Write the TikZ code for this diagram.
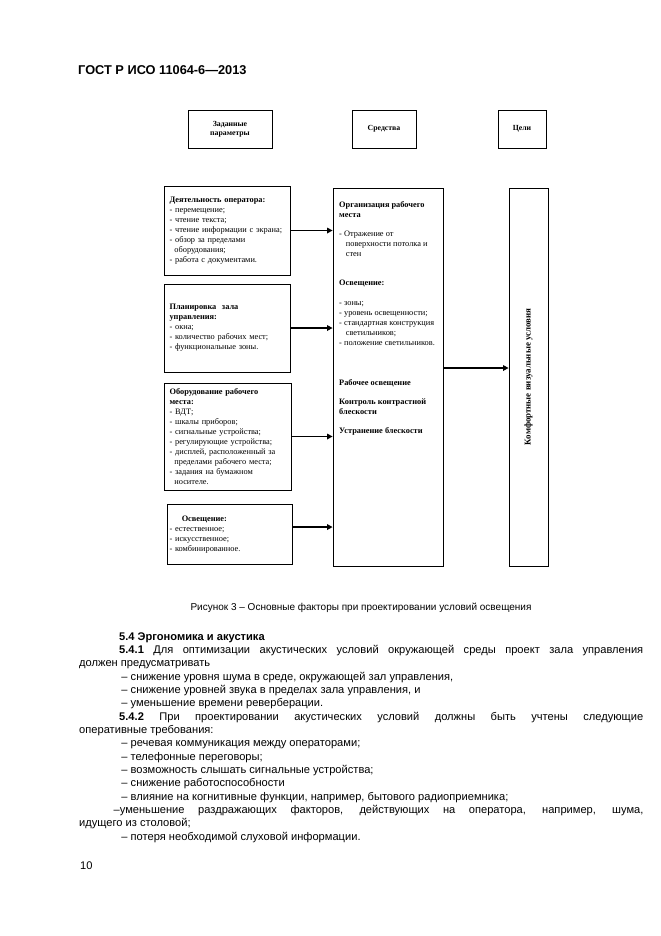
\documentclass[tikz,border=0pt]{standalone}
\usepackage{fontspec}
\setmainfont{Liberation Sans}
\newfontfamily\schemefont{Liberation Serif}
\usetikzlibrary{arrows.meta}

\begin{document}
\begin{tikzpicture}[x=0.9pt, y=-0.9pt,
        box/.style={draw, line width=0.7pt, inner sep=0pt},
        head/.style={box, font={\schemefont\bfseries\fontsize{7}{8.5}\selectfont}, align=center},
        factor/.style={box, font={\schemefont\fontsize{7.5}{9}\selectfont}, align=left, inner xsep=5pt},
        meanstext/.style={font={\schemefont\fontsize{7.5}{9}\selectfont}, align=left, inner sep=0pt, anchor=base west},
        link/.style={line width=1.6pt, -{Triangle[length=5pt, width=5pt]}},
        body/.style={font={\fontsize{10}{12}\selectfont}, align=left, inner sep=0pt, anchor=base west}]
    \useasboundingbox (0,0) rectangle (661,936);

    \node[font={\bfseries\fontsize{11.5}{13}\selectfont}, anchor=base west, inner sep=0pt] (gost) at (78, 74) {ГОСТ Р ИСО 11064-6—2013};

    \node[head, minimum width=75.6pt, minimum height=34.2pt] (given) at (230, 129) {Заданные\\параметры};
    \node[head, minimum width=57.6pt, minimum height=34.2pt] (tools) at (384, 129) {Средства};
    \node[head, minimum width=43.2pt, minimum height=34.2pt] (goals) at (522, 129) {Цели};

    \node[factor, text width=103.4pt, minimum height=80.1pt] (work) at (227, 230.5) {\textbf{Деятельность оператора:}\\
        - перемещение;\\
        - чтение текста;\\
        - чтение информации с экрана;\\
        - обзор за пределами\\
        \hspace*{4.4pt}оборудования;\\
        - работа с документами.};
    \node[factor, text width=103.4pt, minimum height=79.2pt] (room) at (227, 328) {\textbf{Планировка\ \ зала}\\
        \textbf{управления:}\\
        - окна;\\
        - количество рабочих мест;\\
        - функциональные зоны.};
    \node[factor, text width=104.3pt, minimum height=96.3pt] (place) at (227.5, 436.5) {\textbf{Оборудование рабочего}\\
        \textbf{места:}\\
        - ВДТ;\\
        - шкалы приборов;\\
        - сигнальные устройства;\\
        - регулирующие устройства;\\
        - дисплей, расположенный за\\
        \hspace*{4.4pt}пределами рабочего места;\\
        - задания на бумажном\\
        \hspace*{4.4pt}носителе.};
    \node[factor, inner xsep=2.3pt, text width=108.4pt, minimum height=54.5pt] (light) at (229.75, 534.25) {\hspace*{11pt}\textbf{Освещение:}\\
        - естественное;\\
        - искусственное;\\
        - комбинированное.};

    \node[box, minimum width=99pt, minimum height=340.2pt] (means) at (388, 377) {};
    \node[meanstext] (meanslist) at (339, 433.5) {\textbf{Организация рабочего}\\
        \textbf{места}\\[8.1pt]
        - Отражение от\\
        \hspace*{6pt}поверхности потолка и\\
        \hspace*{6pt}стен\\[17.1pt]
        \textbf{Освещение:}\\[9pt]
        - зоны;\\
        - уровень освещенности;\\
        - стандартная конструкция\\
        \hspace*{6pt}светильников;\\
        - положение светильников.\\[27pt]
        \textbf{Рабочее освещение}\\[8.1pt]
        \textbf{Контроль контрастной}\\
        \textbf{блескости}\\[8.1pt]
        \textbf{Устранение блескости}};

    \node[box, minimum width=35.1pt, minimum height=340.2pt] (aim) at (528.5, 377) {};
    \node[rotate=90, inner sep=0pt, font={\schemefont\bfseries\fontsize{8}{9}\selectfont}] (aimtext) at (aim.center) {Комфортные визуальные условия};

    \draw[link] (work.east) -- (work.east -| means.west);
    \draw[link] (room.east) -- (room.east -| means.west);
    \draw[link] (place.east) -- (place.east -| means.west);
    \draw[link] ([yshift=6.5pt]light.east) -- ([yshift=6.5pt]light.east -| means.west);
    \draw[link] ([yshift=8.1pt]means.east) -- ([yshift=8.1pt]means.east -| aim.west);

    \node[font={\fontsize{9}{11}\selectfont}, inner sep=0pt] (caption) at (361, 608) {Рисунок 3 – Основные факторы при проектировании условий освещения};

    \node[body] (text) at (79, 840) {\hspace*{36pt}\textbf{5.4 Эргономика и акустика}\\
        \hspace*{36pt}\makebox[471.6pt][s]{\textbf{5.4.1} Для оптимизации акустических условий окружающей среды проект зала управления}\\
        должен предусматривать\\
        \hspace*{38pt}– снижение уровня шума в среде, окружающей зал управления,\\
        \hspace*{38pt}– снижение уровней звука в пределах зала управления, и\\
        \hspace*{38pt}– уменьшение времени реверберации.\\
        \hspace*{36pt}\makebox[471.6pt][s]{\textbf{5.4.2} При проектировании акустических условий должны быть учтены следующие}\\
        оперативные требования:\\
        \hspace*{38pt}– речевая коммуникация между операторами;\\
        \hspace*{38pt}– телефонные переговоры;\\
        \hspace*{38pt}– возможность слышать сигнальные устройства;\\
        \hspace*{38pt}– снижение работоспособности\\
        \hspace*{38pt}– влияние на когнитивные функции, например, бытового радиоприемника;\\
        \hspace*{31pt}\makebox[476.8pt][s]{–уменьшение раздражающих факторов, действующих на оператора, например, шума,}\\
        идущего из столовой;\\
        \hspace*{38pt}– потеря необходимой слуховой информации.};

    \node[font={\fontsize{10}{12}\selectfont}, anchor=base west, inner sep=0pt] (pageno) at (80, 869) {10};
\end{tikzpicture}
\end{document}
